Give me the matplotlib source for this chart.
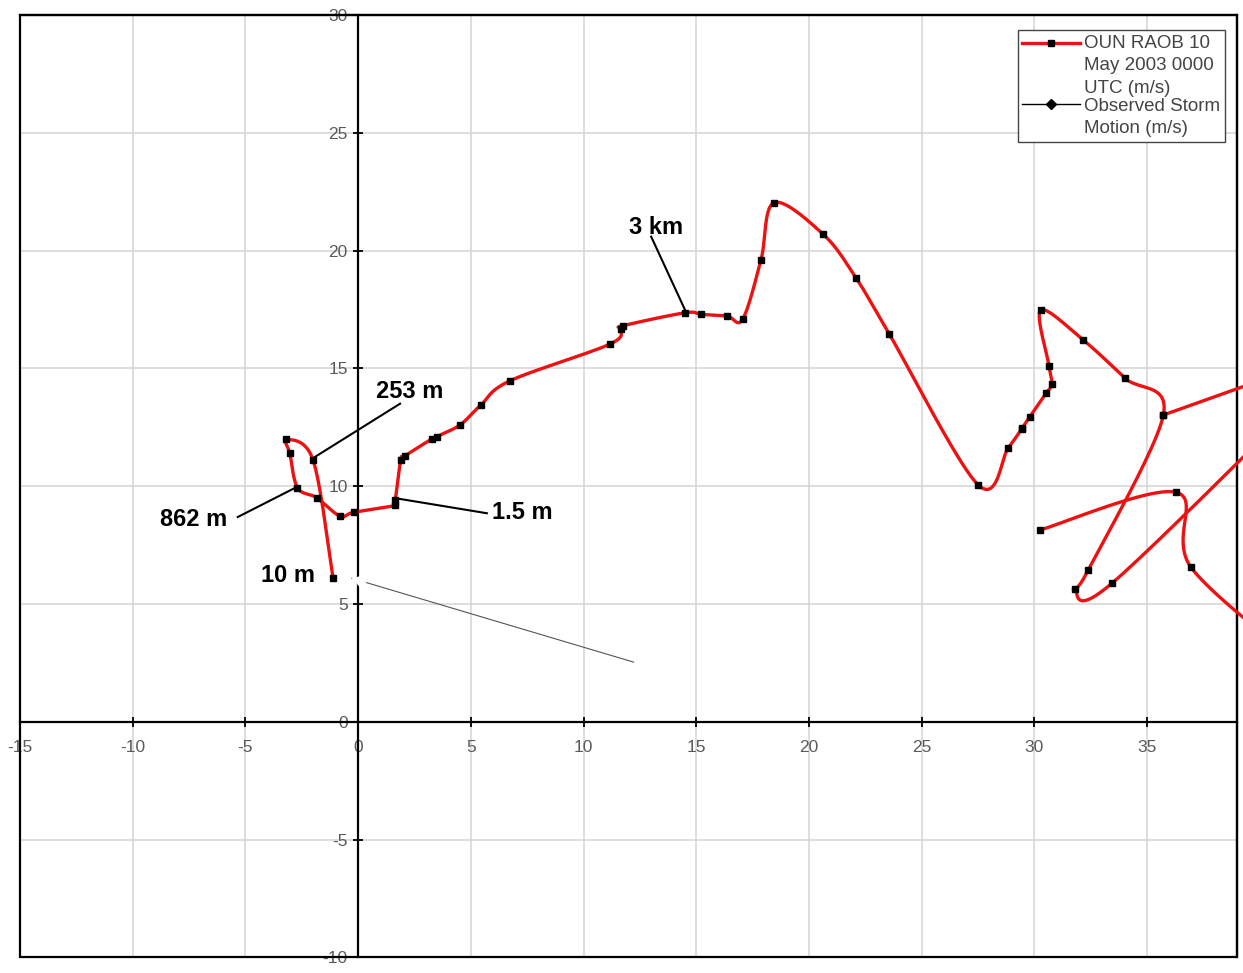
import numpy as np
import matplotlib
matplotlib.use('Agg')
import matplotlib.pyplot as plt
from matplotlib.lines import Line2D
from matplotlib.patches import Rectangle
from matplotlib.legend_handler import HandlerLine2D

plt.rcParams['font.family'] = ['Liberation Sans', 'DejaVu Sans']
plt.rcParams['axes.unicode_minus'] = False

# hodograph points (u, v in m/s), 10 m upward
u_main = [-1.11, -2.0, -3.21, -3.03, -2.69, -1.84, -0.81, -0.19, 1.62, 1.65,
          1.89, 2.07, 3.26, 3.48, 4.52, 5.44, 6.73, 11.17, 11.64, 11.75,
          14.5, 15.23, 16.37, 17.06, 17.87, 18.45, 20.63, 22.08, 23.56, 27.51,
          28.84, 29.43, 29.46, 29.8, 30.51, 30.77, 30.65, 30.28, 32.17, 34.02,
          35.72, 32.39, 31.8, 33.43, 42.5]
v_main = [6.09, 11.11, 11.99, 11.39, 9.93, 9.51, 8.73, 8.89, 9.18, 9.41,
          11.11, 11.28, 12.0, 12.1, 12.6, 13.44, 14.47, 16.03, 16.67, 16.81,
          17.36, 17.29, 17.22, 17.09, 19.6, 22.03, 20.69, 18.85, 16.46, 10.05,
          11.63, 12.42, 12.47, 12.95, 13.94, 14.33, 15.1, 17.47, 16.2, 14.58,
          13.02, 6.44, 5.63, 5.87, 14.3]
# the parts that run off the right edge
u_upper = [35.72, 43.0]
v_upper = [13.02, 15.5]
u_lower = [30.25, 36.28, 36.95, 42.0]
v_lower = [8.14, 9.74, 6.55, 2.3]

# height labels: text, text position, leader start, leader end
lbl_text = ['253 m', '862 m', '10 m', '1.5 m', '3 km']
lbl_x = [2.3, -7.3, -3.1, 7.3, 13.2]
lbl_y = [14.0, 8.6, 6.2, 8.9, 21.0]
lead_x0 = [-2.0, -2.71, None, 1.71, 14.54]
lead_y0 = [11.19, 9.97, None, 9.48, 17.4]
lead_x1 = [1.86, -5.34, None, 5.71, 13.0]
lead_y1 = [13.5, 8.69, None, 8.85, 20.59]

leg_labels = ['OUN RAOB 10\nMay 2003 0000\nUTC (m/s)',
              'Observed Storm\nMotion (m/s)']


def smooth(u, v, n=24):
    # excel style smoothed line (bezier through the points)
    p = np.column_stack([u, v]).astype(float)
    p = np.vstack([p[0], p, p[-1]])
    t = np.linspace(0, 1, n, endpoint=False)[:, None]
    out = []
    for i in range(1, len(p) - 2):
        p0, p1, p2, p3 = p[i - 1], p[i], p[i + 1], p[i + 2]
        b1 = p1 + (p2 - p0) / 6
        b2 = p2 - (p3 - p1) / 6
        out.append((1 - t)**3 * p1 + 3 * (1 - t)**2 * t * b1
                   + 3 * (1 - t) * t**2 * b2 + t**3 * p2)
    out.append(p[-2][None])
    return np.vstack(out)


class TopLine(HandlerLine2D):
    # put the legend symbol on the first text line, like excel does
    def __init__(self, shift, **kw):
        super().__init__(**kw)
        self.shift = shift

    def create_artists(self, legend, orig_handle, xdescent, ydescent,
                       width, height, fontsize, trans):
        arts = super().create_artists(legend, orig_handle, xdescent, ydescent,
                                      width, height, fontsize, trans)
        for a in arts:
            a.set_ydata(np.asarray(a.get_ydata()) + self.shift * fontsize)
        return arts


fig = plt.figure(figsize=(12.43, 9.73), dpi=100)
ax = fig.add_axes([20 / 1243, 15.7 / 973, 1217.3 / 1243, 942.3 / 973])

ax.set_xlim(-15, 39.0)
ax.set_ylim(-10, 30)
ax.set_xticks(np.arange(-15, 40, 5))
ax.set_yticks(np.arange(-10, 31, 5))
ax.grid(True, color='#d4d4d4', lw=1.1)
ax.set_axisbelow(True)

# axes through the origin, frame round the plot
ax.spines['left'].set_position(('data', 0))
ax.spines['bottom'].set_position(('data', 0))
for s in ['left', 'bottom']:
    ax.spines[s].set_linewidth(1.6)
    ax.spines[s].set_zorder(3)
for s in ['top', 'right']:
    ax.spines[s].set_linewidth(1.6)
ax.add_patch(Rectangle((0, 0), 1, 1, transform=ax.transAxes, fill=False,
                       lw=1.6, ec='black', clip_on=False, zorder=3))
ax.tick_params(direction='inout', length=7, width=1.3, colors='black',
               labelcolor='#5a5a5a', labelsize=12.5)
ax.tick_params(axis='x', pad=10)
ax.tick_params(axis='y', pad=4)

for uu, vv in [(u_main, v_main), (u_upper, v_upper), (u_lower, v_lower)]:
    c = smooth(uu, vv)
    ax.plot(c[:, 0], c[:, 1], color='#ee1111', lw=2.4, clip_on=False, zorder=4)
    ax.plot(uu, vv, 's', color='black', ms=4.5, clip_on=False, zorder=5)

for i, t in enumerate(lbl_text):
    if lead_x0[i] is not None:
        ax.plot([lead_x0[i], lead_x1[i]], [lead_y0[i], lead_y1[i]],
                color='black', lw=1.5, zorder=3)
    ax.text(lbl_x[i], lbl_y[i], t, fontsize=17, fontweight='bold',
            ha='center', va='center', zorder=6)

# thin pointer line with white head over the axis
ax.plot([-0.28, 12.22], [6.09, 2.53], color='#555555', lw=0.8, zorder=6)
ax.annotate('', xy=(-0.28, 6.09), xytext=(0.2, 5.95),
            arrowprops=dict(arrowstyle='-|>,head_length=1.0,head_width=0.6',
                            fc='white', ec='white', lw=0.5,
                            shrinkA=0, shrinkB=0), zorder=7)

h1 = Line2D([], [], color='#ee1111', lw=2.4, marker='s', mfc='black',
            mec='black', ms=5)
h2 = Line2D([], [], color='black', lw=1.0, marker='D', mfc='black',
            mec='black', ms=5)
leg = ax.legend([h1, h2], leg_labels,
                handler_map={h1: TopLine(1.2), h2: TopLine(0.68)},
                loc='upper right', bbox_to_anchor=(1225 / 1243, 1 - 30 / 973),
                bbox_transform=fig.transFigure, borderaxespad=0,
                fontsize=13.5, labelcolor='#444444', fancybox=False,
                framealpha=1, edgecolor='#444444', handlelength=3.1,
                handletextpad=0.2, labelspacing=0.05, borderpad=0.25)
for t in leg.get_texts():
    t.set_linespacing(1.42)
leg.get_frame().set_linewidth(1.0)
leg.set_zorder(8)

plt.savefig('out.png', dpi=100)
